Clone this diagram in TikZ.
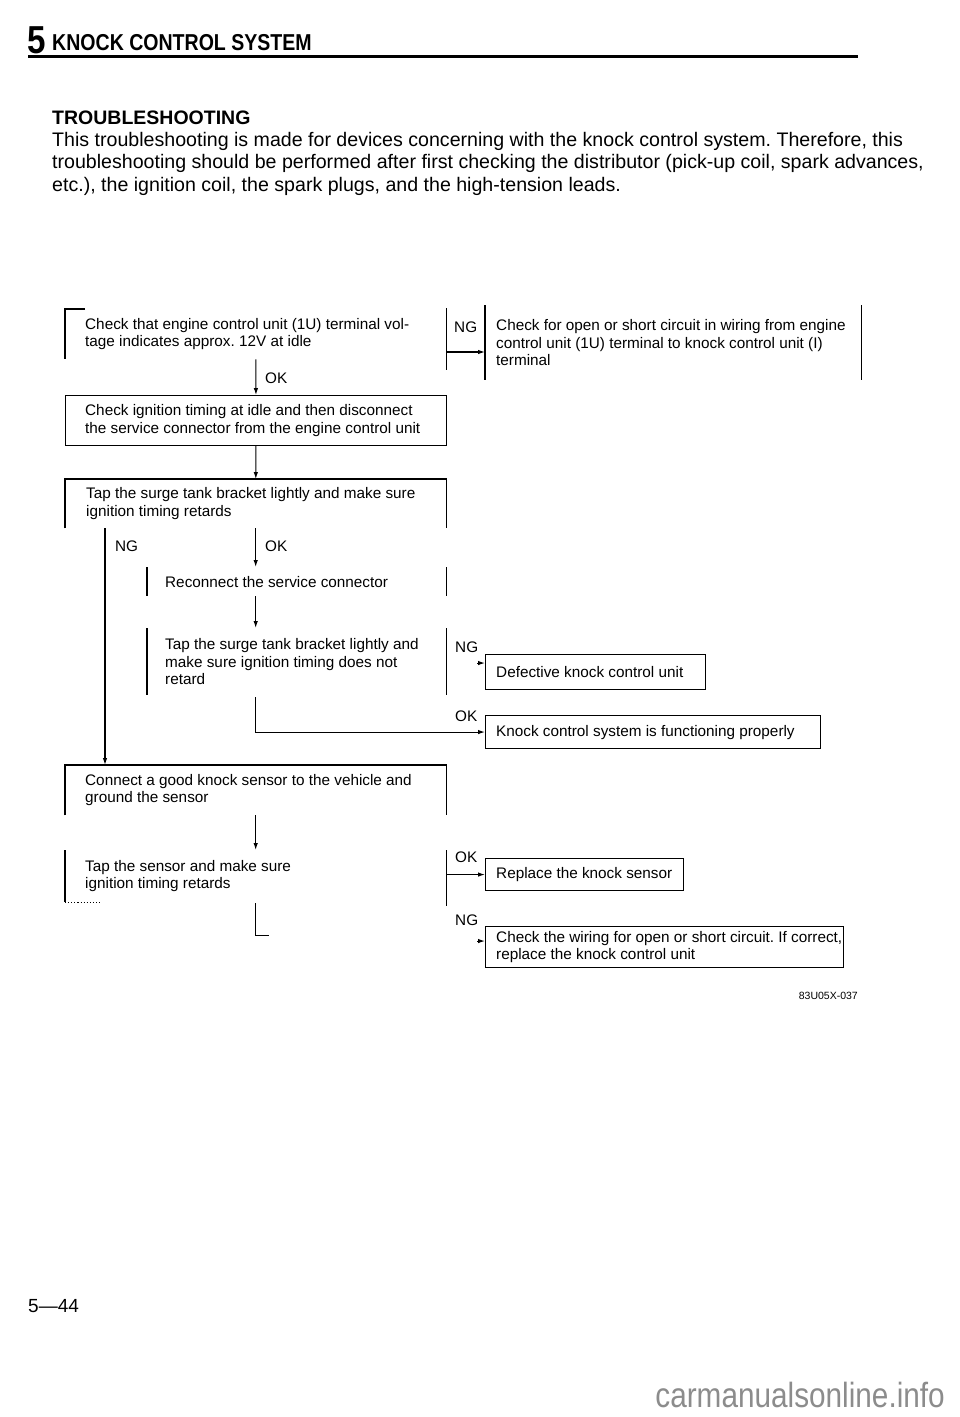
\documentclass[tikz,border=0pt]{standalone}
\usepackage{fontspec}
\setmainfont{Liberation Sans}
\newfontfamily\condsf[FakeStretch=0.85]{Liberation Sans}
\usetikzlibrary{arrows.meta}
\frenchspacing

\tikzset{
    frame/.style={draw, line width=1.1pt, inner sep=0pt, anchor=north west},
    blank/.style={inner sep=0pt, anchor=north west},
    txt/.style={font=\fontsize{15.3pt}{17.5pt}\selectfont, align=left, inner sep=0pt, anchor=west},
    tag/.style={font=\fontsize{15.3pt}{17.5pt}\selectfont, inner sep=0pt, anchor=west},
    wire/.style={line width=1.1pt},
    arr/.style={wire, -{Latex[length=7pt,width=4.5pt]}},
}

\begin{document}
\begin{tikzpicture}[x=1pt,y=-1pt]
        \useasboundingbox (0,0) rectangle (960,1417);
        \begin{scope}
            \node[anchor=base west, inner sep=0pt, font=\condsf\bfseries\fontsize{39pt}{39pt}\selectfont] (chapno) at (27,53) {5};
            \node[anchor=base west, inner sep=0pt, font=\condsf\bfseries\fontsize{23pt}{23pt}\selectfont] (chaptitle) at (52,50) {KNOCK CONTROL SYSTEM};
            \draw[line width=3pt] (28,56) -- (858,56);

            \node[anchor=base west, inner sep=0pt, font=\bfseries\fontsize{19.5pt}{22pt}\selectfont] (tshead) at (52,124) {TROUBLESHOOTING};
            \node[anchor=base west, inner sep=0pt, font=\fontsize{19.6pt}{22pt}\selectfont] (intro1) at (52,146) {This troubleshooting is made for devices concerning with the knock control system. Therefore, this};
            \node[anchor=base west, inner sep=0pt, font=\fontsize{19.6pt}{22pt}\selectfont] (intro2) at (52,168.5) {troubleshooting should be performed after first checking the distributor (pick-up coil, spark advances,};
            \node[anchor=base west, inner sep=0pt, font=\fontsize{19.6pt}{22pt}\selectfont] (intro3) at (52,191) {etc.), the ignition coil, the spark plugs, and the high-tension leads.};
        \end{scope}

        \begin{scope}
            % terminal voltage
            \node[blank, minimum width=381pt, minimum height=50pt] (ecu) at (65,309) {};
            \node[txt] (ecu-t) at ([xshift=20pt]ecu.west) {Check that engine control unit (1U) terminal vol-\\tage indicates approx. 12V at idle};
            \draw[wire] ([xshift=20pt]ecu.north west) -- (ecu.north west) -- (ecu.south west);
            \draw[wire] ([yshift=1pt]ecu.north east) -- ([yshift=-11pt]ecu.south east);

            \node[blank, minimum width=376pt, minimum height=75pt] (wiring1) at (485,305) {};
            \node[txt] (wiring1-t) at ([xshift=11pt]wiring1.west) {Check for open or short circuit in wiring from engine\\control unit (1U) terminal to knock control unit (I)\\terminal};
            \draw[wire] (wiring1.north west) -- (wiring1.south west);
            \draw[wire] (wiring1.north east) -- (wiring1.south east);
            \node[tag] (ng1) at (454,327) {NG};
            \coordinate (ng1a) at (446,352);
            \draw[arr] (ng1a) -- (ng1a -| wiring1.west);

            % ignition timing
            \node[frame, minimum width=381pt, minimum height=50pt] (ign) at (65,395) {};
            \node[txt] (ign-t) at ([xshift=20pt]ign.west) {Check ignition timing at idle and then disconnect\\the service connector from the engine control unit};
            \draw[arr] (ecu) -- (ign);
            \node[tag] (ok1) at (265,378) {OK};

            \node[blank, minimum width=381pt, minimum height=49pt] (tap) at (65,479) {};
            \node[txt] (tap-t) at ([xshift=21pt]tap.west) {Tap the surge tank bracket lightly and make sure\\ignition timing retards};
            \draw[wire] (tap.south west) -- (tap.north west) -- (tap.north east) -- (tap.south east);
            \draw[arr] (ign) -- (tap);
            \node[tag] (ng2) at (115,546) {NG};
            \node[tag] (ok2) at (265,546) {OK};
            \coordinate (ng2a) at (105,528);

            \node[blank, minimum width=299pt, minimum height=29pt] (reconn) at (147,567) {};
            \node[txt] (reconn-t) at ([xshift=18pt]reconn.west) {Reconnect the service connector};
            \draw[wire] (reconn.north west) -- (reconn.south west);
            \draw[wire] (reconn.north east) -- (reconn.south east);
            \draw[arr] (tap) -- (tap |- reconn.north);

            \node[blank, minimum width=299pt, minimum height=67pt] (retap) at (147,628) {};
            \node[txt] (retap-t) at ([xshift=18pt]retap.west) {Tap the surge tank bracket lightly and\\make sure ignition timing does not\\retard};
            \draw[wire] (retap.north west) -- (retap.south west);
            \draw[wire] (retap.north east) -- (retap.south east);
            \draw[arr] (reconn.south -| tap.south) -- (retap.north -| tap.south);

            \node[frame, minimum width=220pt, minimum height=35pt] (defect) at (485,654) {};
            \node[txt] (defect-t) at ([xshift=11pt]defect.west) {Defective knock control unit};
            \node[tag] (ng3) at (455,647) {NG};
            \draw[arr] ([shift={(-8pt,9pt)}]defect.west) -- ([yshift=9pt]defect.west);

            \node[frame, minimum width=335pt, minimum height=33pt] (proper) at (485,715) {};
            \node[txt] (proper-t) at ([xshift=11pt]proper.west) {Knock control system is functioning properly};
            \node[tag] (ok3) at (455,716) {OK};
            \draw[arr] ([yshift=-2pt]retap.south -| tap.south) |- (proper.west);

            % knock sensor
            \node[blank, minimum width=381pt, minimum height=50pt] (goodks) at (65,765) {};
            \node[txt] (goodks-t) at ([xshift=20pt]goodks.west) {Connect a good knock sensor to the vehicle and\\ground the sensor};
            \draw[wire] (goodks.south west) -- (goodks.north west) -- (goodks.north east) -- (goodks.south east);
            \draw[arr] (ng2a) -- (ng2a |- goodks.north);

            \node[blank, minimum width=381pt, minimum height=52pt] (tapks) at (65,850) {};
            \node[txt] (tapks-t) at ([xshift=20pt]tapks.west) {Tap the sensor and make sure\\ignition timing retards};
            \draw[wire] (tapks.north west) -- (tapks.south west);
            \draw[wire, dotted] (tapks.south west) -- ++(35,0);
            \draw[wire] (tapks.north east) -- ([yshift=-4pt]tapks.south east);
            \draw[arr] (goodks) -- (tapks);

            \node[frame, minimum width=198pt, minimum height=32pt] (newks) at (485,858) {};
            \node[txt] (newks-t) at ([xshift=11pt]newks.west) {Replace the knock sensor};
            \node[tag] (ok4) at (455,857) {OK};
            \draw[arr] (tapks.east |- newks.west) -- (newks.west);

            \node[frame, minimum width=358pt, minimum height=41pt] (kcu) at (485,926) {};
            \node[txt] (kcu-t) at ([xshift=11pt]kcu.west) {Check the wiring for open or short circuit. If correct,\\replace the knock control unit};
            \node[tag] (ng4) at (455,920) {NG};
            \draw[wire] ([yshift=-1pt]tapks.south) -- ++(0,32) -- ++(13,0);
            \draw[arr] ([shift={(-8pt,6pt)}]kcu.west) -- ([yshift=6pt]kcu.west);
        \end{scope}

        \node[anchor=base east, inner sep=0pt, font=\fontsize{10.5pt}{12pt}\selectfont] (figno) at (858,999) {83U05X-037};
        \node[anchor=base west, inner sep=0pt, font=\fontsize{19pt}{19pt}\selectfont] (pageno) at (28,1312) {5—44};
        \node[anchor=base east, inner sep=0pt, text=black!45, font=\condsf\fontsize{35pt}{35pt}\selectfont] (mark) at (945,1407) {carmanualsonline.info};
    \end{tikzpicture}
\end{document}
